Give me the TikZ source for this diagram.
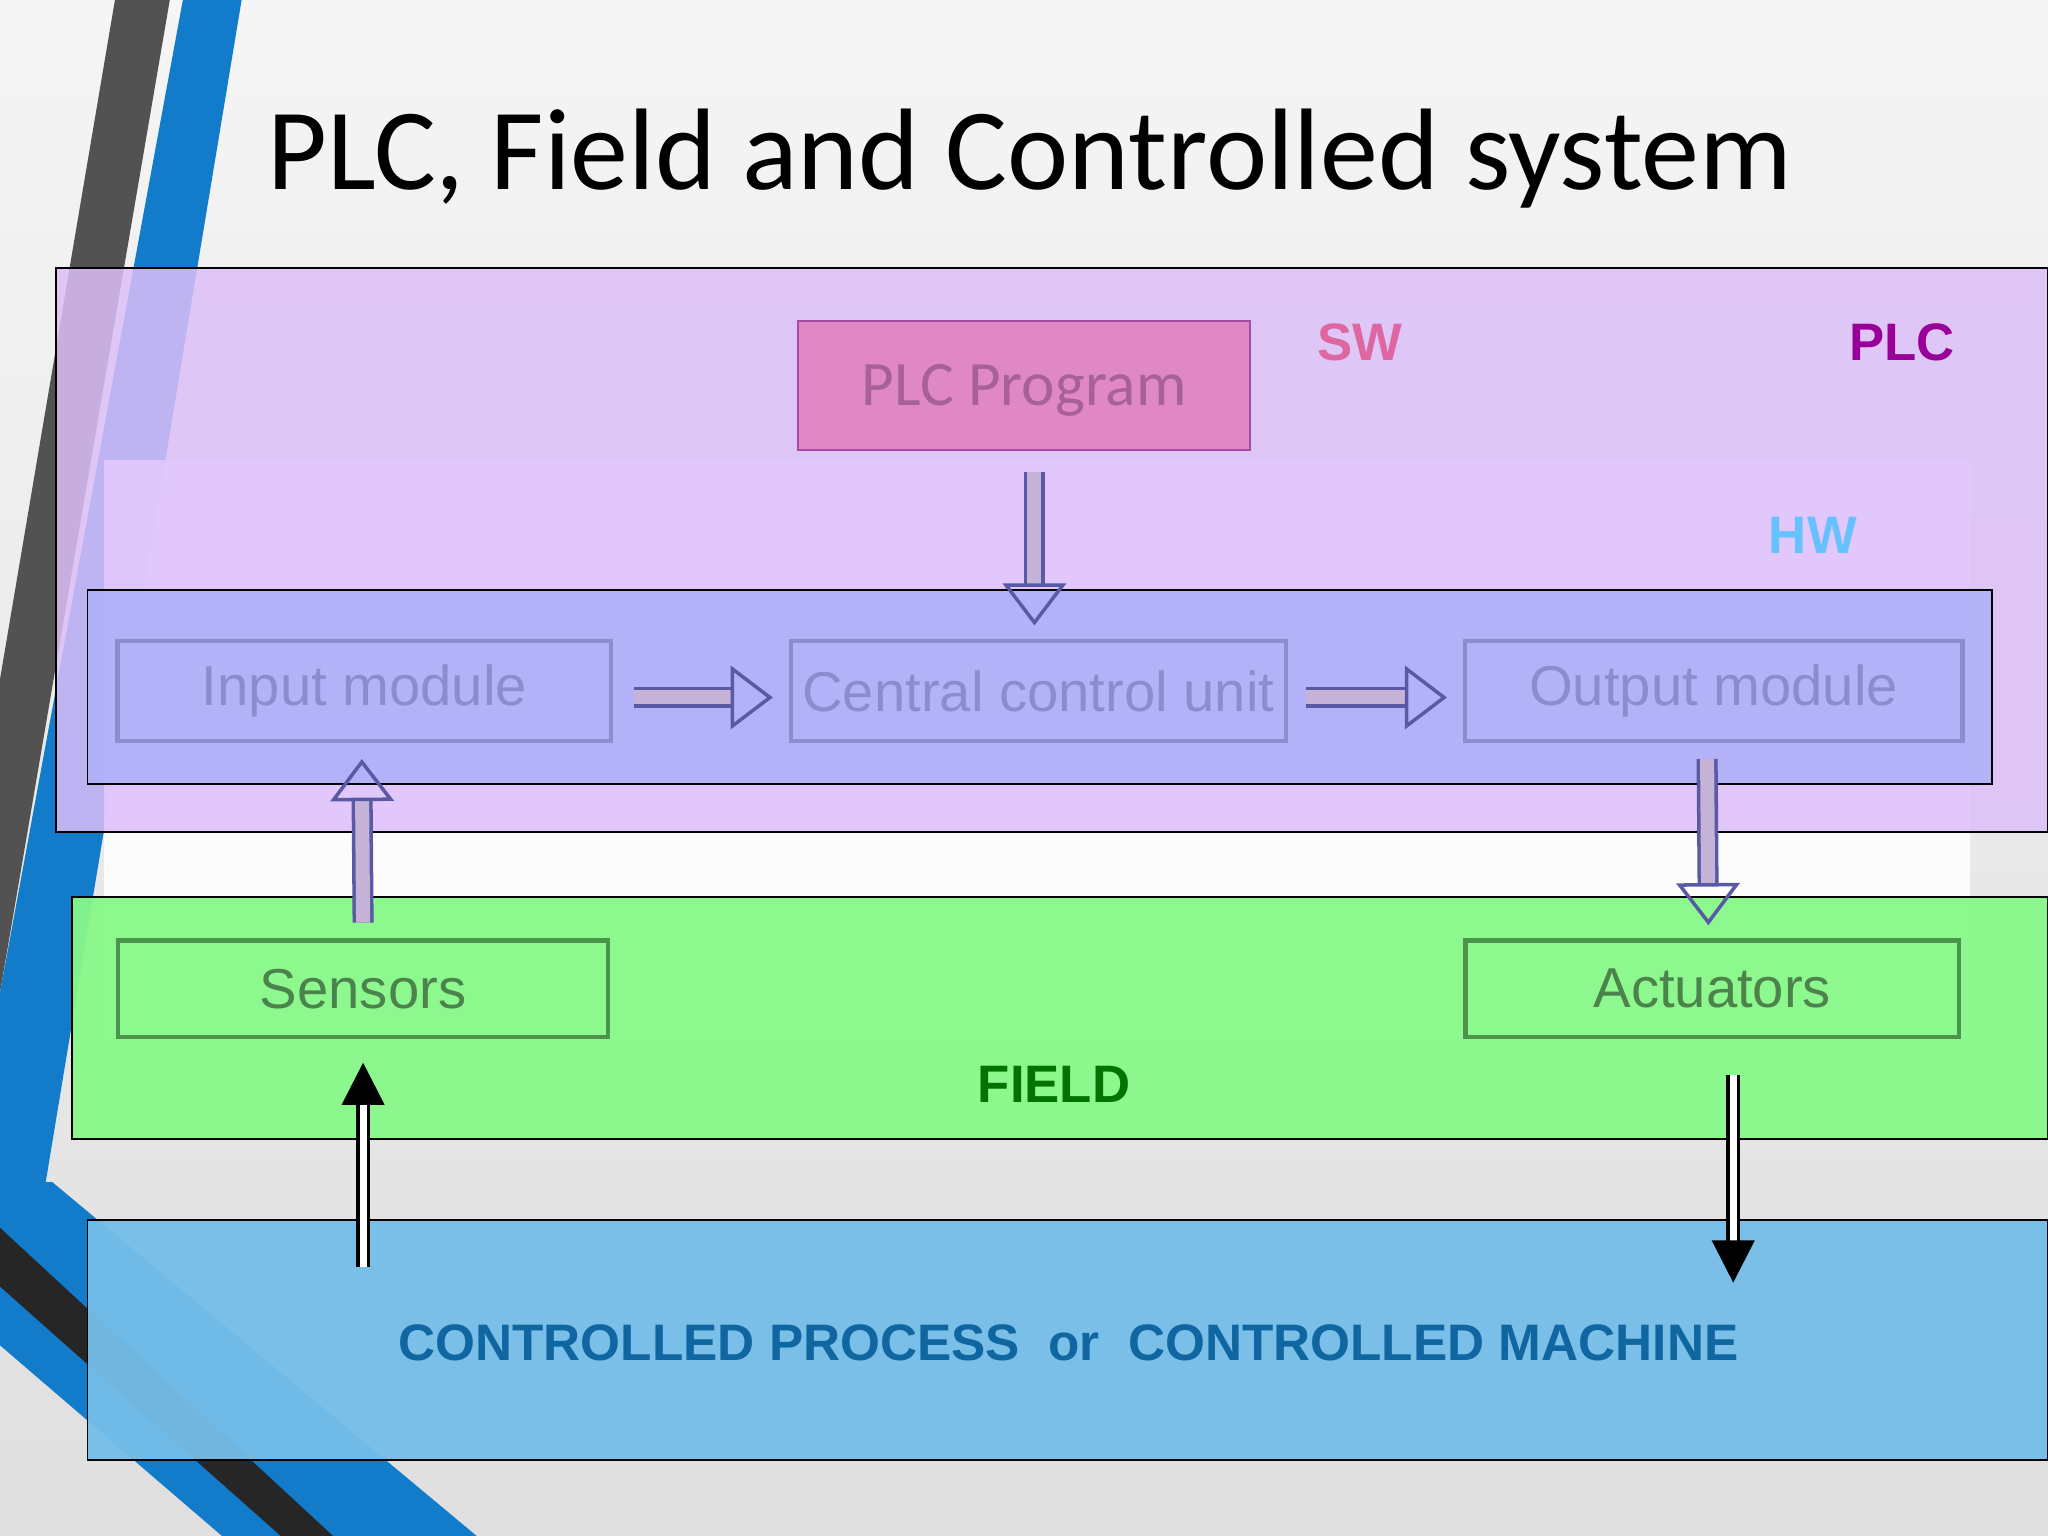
\documentclass[tikz,border=0pt]{standalone}
\usepackage{fontspec}
\setmainfont{Carlito}
\newfontfamily\lib{Liberation Sans}
\usetikzlibrary{arrows.meta}
\definecolor{plcv}{HTML}{DCBFF8}
\definecolor{plcin}{HTML}{E2C8FC}
\definecolor{hwb}{HTML}{AEB0F8}
\definecolor{modt}{HTML}{8A8CD0}
\definecolor{progf}{HTML}{E088C4}
\definecolor{progt}{HTML}{A8609A}
\definecolor{fieldg}{HTML}{88F888}
\definecolor{procb}{HTML}{74BEE8}
\definecolor{proct}{HTML}{1066A0}
\begin{document}
\begin{tikzpicture}[x=0.01306cm,y=-0.01306cm,
 box/.style={draw=black,line width=0.5pt},
 mod/.style={draw=#1,line width=1.2pt,minimum height=77*0.01306cm,font=\fontsize{16}{18}\lib},
 lbl/.style={font=\fontsize{15}{17}\lib\bfseries},
 hollow/.style={draw=gray!70!blue,double=plcin!70!gray,double distance=4pt,line width=1pt,-{Triangle[open,length=12pt,width=18pt]}},
 solid/.style={draw=black,double=white,double distance=2pt,line width=1pt,-{Triangle[length=12pt,width=12pt]}}]
\def\u{0.01306cm}
\useasboundingbox (0,0) rectangle (1568,1176);
\shade[top color=gray!8,bottom color=gray!25] (0,0) rectangle (1568,1176);
% left stripes
\fill[gray!30!black!80] (88,0) -- (130,0) -- (0,760) -- (0,520) -- cycle;
\fill[cyan!60!blue] (140,0) -- (185,0) -- (35,905) -- (0,905) -- (0,760) -- cycle;
\fill[cyan!60!blue] (0,905) -- (40,905) -- (365,1176) -- (170,1176) -- (0,1030) -- cycle;
\fill[gray!30!black] (0,940) -- (255,1176) -- (215,1176) -- (0,985) -- cycle;
\node[anchor=base west,font=\fontsize{33}{40}\selectfont] (title) at (195,145) {PLC, Field and Controlled system};
% PLC
\fill[plcv,opacity=0.85] (43,205) rectangle (1568,637);
\fill[white,opacity=0.9] (80,637) rectangle (1508,800);
\fill[plcin,opacity=0.9] (80,352) rectangle (1508,637);
\draw[box] (43,205) rectangle (1568,637);
\draw[box,fill=hwb,fill opacity=0.9] (67,452) rectangle (1525,600);
\node[box,draw=violet!70,fill=progf,minimum width=346*\u,minimum height=99*\u,text=progt,font=\fontsize{18}{20}\selectfont,text depth=0pt,yshift=-4*\u] (prog) at (784,291) {PLC Program};
\node[lbl,text=magenta!60!pink!80!gray] (sw) at (1041,262) {SW};
\node[lbl,text=violet!80!magenta] (plc) at (1456,262) {PLC};
\node[lbl,text=blue!40!cyan!60!white] (hw) at (1388,410) {HW};
\node[mod=modt,minimum width=378*\u,text=modt,yshift=-1*\u] (in) at (279,528) {Input module};
\node[mod=modt,minimum width=365*\u,text=modt,yshift=-1*\u] (cpu) at (795,528) {Central control unit};
\node[mod=modt,minimum width=381*\u,text=modt,yshift=-1*\u] (out) at (1312,528) {Output module};
\draw[hollow] ([xshift=16*\u,yshift=-5*\u]in.east) -- ([xshift=-12*\u,yshift=-5*\u]cpu.west);
\draw[hollow] ([xshift=14*\u,yshift=-5*\u]cpu.east) -- ([xshift=-12*\u,yshift=-5*\u]out.west);
\draw[hollow] ([xshift=8*\u,yshift=-16*\u]prog.south) -- ([xshift=-3*\u,yshift=10*\u]cpu.north);
% FIELD
\fill[fieldg,opacity=0.95] (55,687) rectangle (1568,872);
\draw[box] (55,687) rectangle (1568,872);
\node[mod=green!40!black!70,minimum width=375*\u,minimum height=74*\u,text=green!30!black!70] (sens) at (278,757) {Sensors};
\node[mod=green!40!black!70,minimum width=378*\u,minimum height=74*\u,text=green!30!black!70] (act) at (1311,757) {Actuators};
\draw[hollow] ([yshift=12*\u]sens.north) -- ([xshift=-2*\u,yshift=-12*\u]in.south);
\draw[hollow] ([xshift=-5*\u,yshift=-12*\u]out.south) -- ([xshift=-3*\u,yshift=10*\u]act.north);
\node[lbl,text=green!45!black] (field) at (807,830) {FIELD};
% Controlled
\fill[procb,opacity=0.95] (67,934) rectangle (1568,1118);
\draw[box] (67,934) rectangle (1568,1118);
\node[text=proct,font=\fontsize{14.6}{17}\lib\bfseries] (proc) at (818,1028) {CONTROLLED PROCESS\ \ or\ \ CONTROLLED MACHINE};
\coordinate (sb) at (278,970);
\coordinate (ab) at (1327,982);
\coordinate (at) at (1327,823);
\draw[solid] (sb) -- ([yshift=-18*\u]sens.south);
\draw[solid] (at) -- (ab);
\end{tikzpicture}
\end{document}
